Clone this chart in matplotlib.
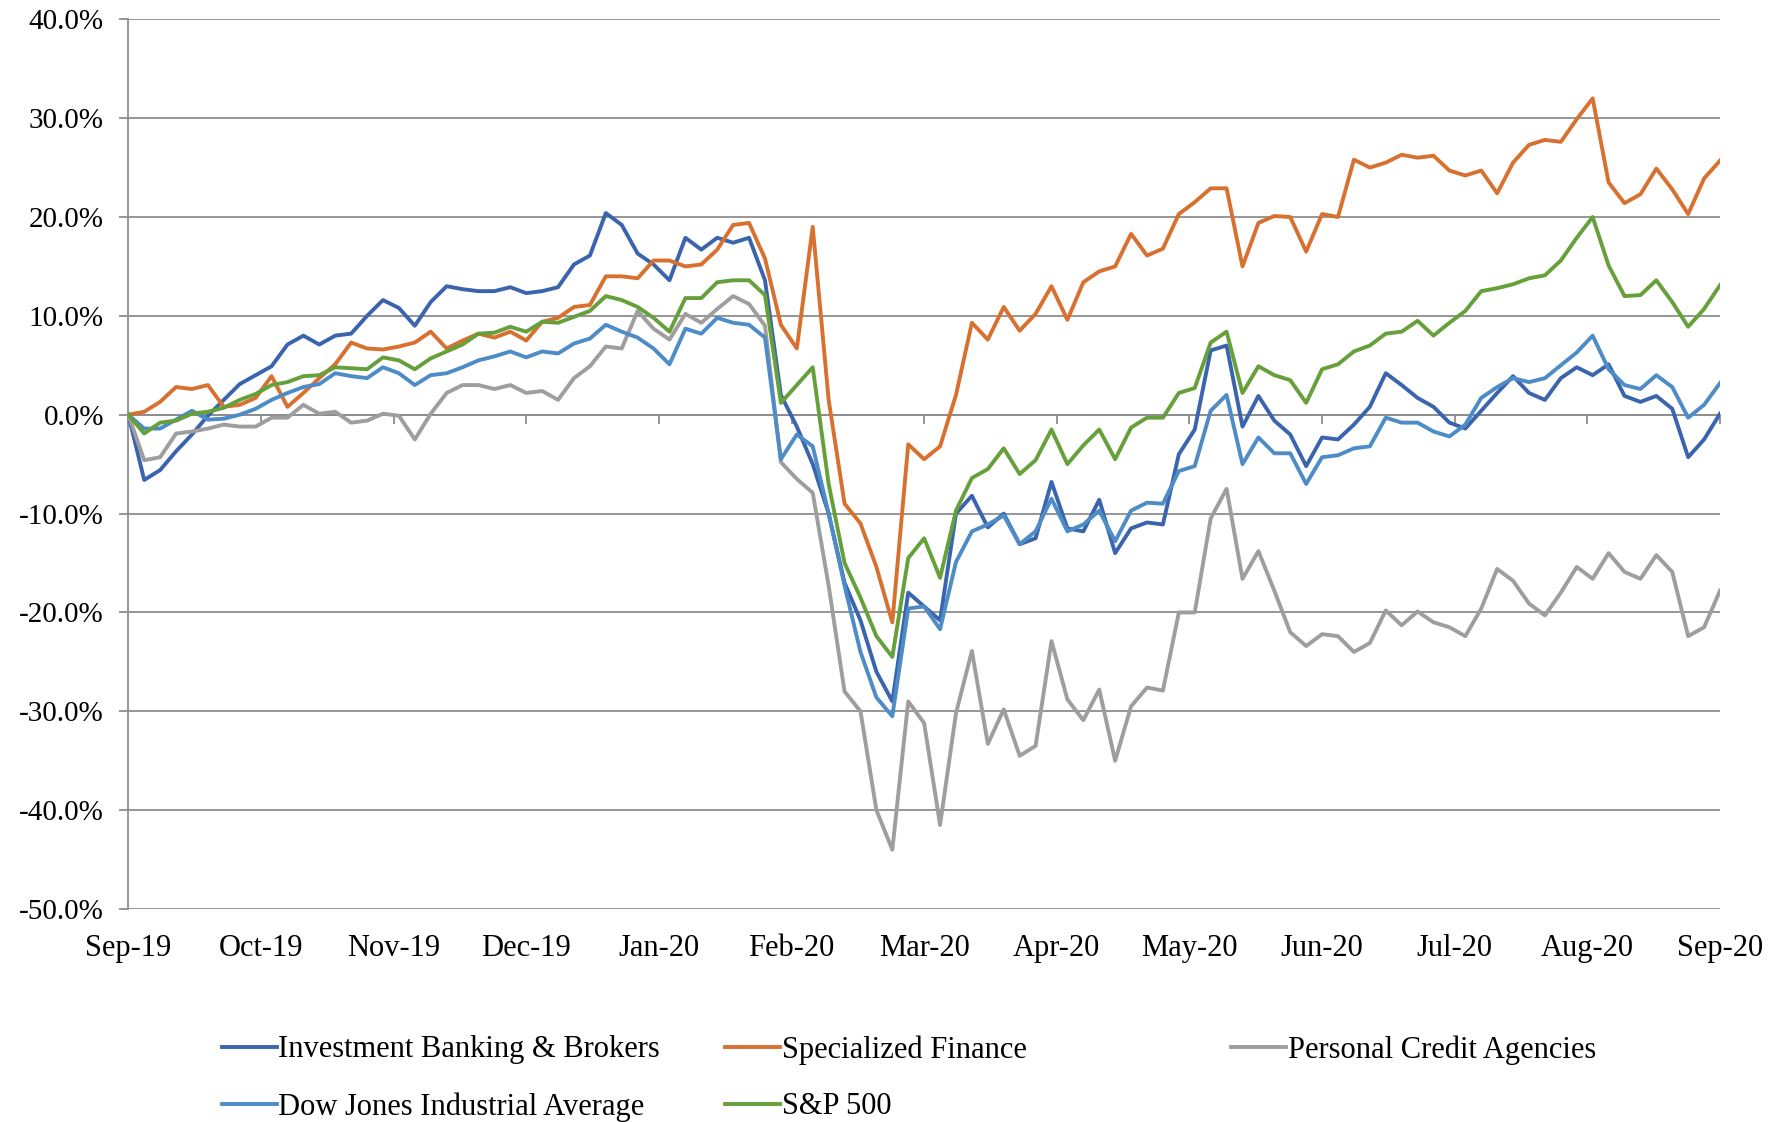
import matplotlib
matplotlib.use("Agg")
import matplotlib.pyplot as plt
import numpy as np
from matplotlib.ticker import FuncFormatter
from matplotlib.lines import Line2D

plt.rcParams['font.family'] = ['Liberation Serif', 'DejaVu Serif']

months = ['Sep-19', 'Oct-19', 'Nov-19', 'Dec-19', 'Jan-20', 'Feb-20', 'Mar-20',
          'Apr-20', 'May-20', 'Jun-20', 'Jul-20', 'Aug-20', 'Sep-20']

names = ['Investment Banking & Brokers', 'Specialized Finance', 'Personal Credit Agencies',
         'Dow Jones Industrial Average', 'S&P 500']

ib = [0, -6.6, -5.6, -3.7, -2.0, -0.1, 1.5, 3.1, 4.0, 4.9, 7.1, 8.0, 7.1, 8.0, 8.2, 10.0, 11.6, 10.8, 9.0, 11.4,
      13.0, 12.7, 12.5, 12.5, 12.9, 12.3, 12.5, 12.9, 15.2, 16.1, 20.4, 19.2, 16.3, 15.2, 13.6, 17.9, 16.7, 17.9, 17.4, 17.9,
      13.6, 2.0, -1.2, -5.0, -10.0, -17.0, -20.8, -26.0, -29.0, -18.0, -19.4, -20.8, -10.0, -8.2, -11.4, -10.0, -13.1, -12.5, -6.8, -11.5,
      -11.8, -8.6, -14.0, -11.5, -10.9, -11.1, -4.0, -1.5, 6.5, 7.0, -1.2, 1.9, -0.6, -2.0, -5.2, -2.3, -2.5, -1.0, 0.8, 4.2,
      3.0, 1.7, 0.8, -0.8, -1.4, 0.4, 2.2, 3.9, 2.2, 1.5, 3.7, 4.8, 4.0, 5.1, 1.9, 1.3, 1.9, 0.6, -4.3, -2.5, 0.1]

sf = [0, 0.3, 1.3, 2.8, 2.6, 3.0, 0.8, 1.0, 1.7, 3.9, 0.8, 2.2, 3.7, 5.1, 7.3, 6.7, 6.6, 6.9, 7.3, 8.4,
      6.7, 7.5, 8.2, 7.8, 8.4, 7.5, 9.4, 9.8, 10.9, 11.1, 14.0, 14.0, 13.8, 15.6, 15.6, 15.0, 15.2, 16.7, 19.2, 19.4,
      15.8, 9.1, 6.7, 19.0, 1.5, -9.0, -11.0, -15.4, -21.0, -3.0, -4.5, -3.2, 2.0, 9.3, 7.6, 10.9, 8.5, 10.2, 13.0, 9.6,
      13.4, 14.5, 15.0, 18.3, 16.1, 16.8, 20.3, 21.5, 22.9, 22.9, 15.0, 19.4, 20.1, 20.0, 16.5, 20.3, 20.0, 25.8, 25.0, 25.5,
      26.3, 26.0, 26.2, 24.7, 24.2, 24.7, 22.4, 25.5, 27.3, 27.8, 27.6, 29.9, 32.0, 23.5, 21.4, 22.3, 24.9, 22.8, 20.3, 23.9, 25.7]

pca = [0, -4.6, -4.3, -1.9, -1.7, -1.4, -1.0, -1.2, -1.2, -0.3, -0.3, 1.0, 0.1, 0.3, -0.8, -0.6, 0.1, -0.1, -2.5, 0.1,
       2.2, 3.0, 3.0, 2.6, 3.0, 2.2, 2.4, 1.5, 3.7, 4.9, 6.9, 6.7, 10.5, 8.7, 7.6, 10.2, 9.3, 10.7, 12.0, 11.2,
       9.0, -4.8, -6.5, -7.9, -17.3, -28.0, -30.0, -40.0, -44.0, -29.0, -31.2, -41.5, -30.2, -23.9, -33.3, -29.8, -34.5, -33.5, -22.9, -28.8,
       -30.9, -27.8, -35.0, -29.5, -27.6, -27.9, -20.0, -20.0, -10.5, -7.5, -16.6, -13.8, -17.8, -22.0, -23.4, -22.2, -22.4, -24.0, -23.1, -19.8,
       -21.3, -19.9, -21.0, -21.5, -22.4, -19.6, -15.6, -16.8, -19.1, -20.3, -18.0, -15.4, -16.6, -14.0, -15.9, -16.6, -14.2, -15.9, -22.4, -21.5, -17.8]

djia = [0, -1.4, -1.4, -0.5, 0.4, -0.5, -0.4, 0.0, 0.6, 1.5, 2.2, 2.8, 3.1, 4.2, 3.9, 3.7, 4.8, 4.2, 3.0, 4.0,
        4.2, 4.8, 5.5, 5.9, 6.4, 5.8, 6.4, 6.2, 7.2, 7.7, 9.1, 8.4, 7.8, 6.7, 5.1, 8.7, 8.2, 9.8, 9.3, 9.1,
        7.8, -4.5, -2.0, -3.2, -10.0, -17.3, -24.0, -28.6, -30.5, -19.6, -19.4, -21.7, -14.9, -11.8, -11.1, -10.2, -13.1, -11.8, -8.5, -11.8,
        -11.1, -9.7, -12.8, -9.7, -8.9, -9.0, -5.7, -5.2, 0.4, 2.0, -5.0, -2.3, -3.9, -3.9, -7.0, -4.3, -4.1, -3.4, -3.2, -0.3,
        -0.8, -0.8, -1.7, -2.2, -1.0, 1.7, 2.8, 3.7, 3.3, 3.7, 5.0, 6.3, 8.0, 4.6, 3.0, 2.6, 4.0, 2.8, -0.3, 1.0, 3.2]

sp500 = [0, -1.9, -0.8, -0.6, 0.1, 0.3, 0.7, 1.5, 2.1, 3.0, 3.3, 3.9, 4.0, 4.8, 4.7, 4.6, 5.8, 5.5, 4.6, 5.7,
         6.4, 7.1, 8.2, 8.3, 8.9, 8.4, 9.4, 9.3, 9.9, 10.5, 12.0, 11.6, 10.9, 9.8, 8.4, 11.8, 11.8, 13.4, 13.6, 13.6,
         12.1, 1.2, 3.0, 4.8, -7.0, -15.0, -18.5, -22.4, -24.5, -14.5, -12.5, -16.5, -9.7, -6.4, -5.5, -3.4, -6.0, -4.6, -1.5, -5.0,
         -3.1, -1.5, -4.5, -1.3, -0.3, -0.3, 2.2, 2.7, 7.3, 8.4, 2.2, 4.9, 4.0, 3.5, 1.2, 4.6, 5.1, 6.4, 7.0, 8.2,
         8.4, 9.5, 8.0, 9.3, 10.5, 12.5, 12.8, 13.2, 13.8, 14.1, 15.6, 17.9, 20.0, 15.1, 12.0, 12.1, 13.6, 11.4, 8.9, 10.7, 13.1]

colors = ['#3A64AE', '#D87130', '#9E9E9E', '#4D8CC6', '#66A03B']
series = [ib, sf, pca, djia, sp500]

W, H = 1782, 1122
fig = plt.figure(figsize=(W / 100, H / 100), dpi=100)
ax = fig.add_axes([128.3 / W, 1 - 909 / H, (1720 - 128.3) / W, (909 - 19.3) / H])

grey = '#8E8E8E'
for vals, c in zip(series, colors):
    x = np.arange(len(vals))
    ax.plot(x, vals, color=c, lw=2.8, solid_joinstyle='round', zorder=3)

n = len(ib) - 1
ticks = np.linspace(0, n, len(months))
ax.set_xlim(0, n)
ax.set_ylim(-50, 40)
ax.set_yticks(np.arange(-50, 41, 10))
ax.yaxis.set_major_formatter(FuncFormatter(lambda v, p: f'{v:.1f}%'))
ax.grid(axis='y', color=grey, lw=1.3, zorder=1)
ax.set_axisbelow(True)
for s in ['top', 'right']:
    ax.spines[s].set_visible(False)
ax.spines['left'].set_color(grey)
ax.spines['left'].set_linewidth(1.3)
ax.spines['bottom'].set_position(('data', 0))
ax.spines['bottom'].set_color(grey)
ax.spines['bottom'].set_linewidth(1.3)
ax.tick_params(axis='y', length=6.5, width=1.3, color=grey, pad=11, labelsize=21)
ax.set_xticks(ticks)
ax.tick_params(axis='x', length=6.5, width=1.3, color=grey, labelbottom=False)

sec = ax.secondary_xaxis('bottom')
sec.set_xticks(ticks)
sec.set_xticklabels(months)
sec.tick_params(length=0, pad=18, labelsize=22)
sec.spines['bottom'].set_visible(False)

legend_pos = [(221.6, 1050), (725, 1050), (1231, 1050), (221.6, 1107), (725, 1107)]
for (px, py), name, c in zip(legend_pos, names, colors):
    fig.legend(handles=[Line2D([], [], color=c, lw=2.8)], labels=[name],
               loc='center left', bbox_to_anchor=(px / W, 1 - py / H),
               frameon=False, borderpad=0, borderaxespad=0, handlelength=1.8,
               handletextpad=0.05, fontsize=22)

fig.savefig('out.png', dpi=100)
